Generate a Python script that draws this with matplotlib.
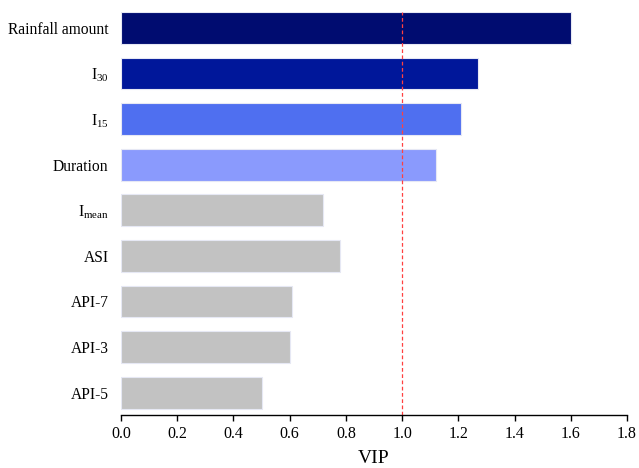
import matplotlib
matplotlib.use("Agg")
import matplotlib.pyplot as plt

plt.rcParams['font.family'] = ['Liberation Serif', 'DejaVu Serif']
plt.rcParams['mathtext.fontset'] = 'custom'
plt.rcParams['mathtext.rm'] = 'Liberation Serif'

labels = ['Rainfall amount', r'$\mathregular{I_{30}}$', r'$\mathregular{I_{15}}$', 'Duration',
          r'$\mathregular{I_{mean}}$', 'ASI', 'API-7', 'API-3', 'API-5']
vip = [1.60, 1.27, 1.21, 1.12, 0.72, 0.78, 0.61, 0.60, 0.50]
colors = ['#000c70', '#00179a', '#4f6ff0', '#8a9afd',
          '#c2c2c2', '#c2c2c2', '#c2c2c2', '#c2c2c2', '#c2c2c2']
threshold = 1.0
xticks = [0.0, 0.2, 0.4, 0.6, 0.8, 1.0, 1.2, 1.4, 1.6, 1.8]

fig = plt.figure(figsize=(6.39, 4.68), dpi=100)
ax = fig.add_axes([0.1894, 0.1132, 0.7918, 0.8612])

ypos = list(range(len(labels)))
ax.barh(ypos, vip, height=0.7, color=colors, edgecolor='#e6e8f4', linewidth=0.8)
ax.axvline(threshold, color='#ff4040', linestyle=(0, (3, 2)), linewidth=0.9)

ax.set_xlim(0, 1.8)
ax.set_ylim(8.49, -0.35)
ax.set_yticks(ypos)
ax.set_yticklabels(labels, fontsize=11.2)
ax.set_xticks(xticks)
ax.set_xticklabels([f'{t:.1f}' for t in xticks], fontsize=11.5)
ax.tick_params(axis='y', length=0, pad=9)
ax.tick_params(axis='x', direction='out', length=4, width=1, pad=4)
ax.set_xlabel('VIP', fontsize=14, labelpad=6)

for s in ['top', 'right', 'left']:
    ax.spines[s].set_visible(False)
ax.spines['bottom'].set_linewidth(1)

fig.savefig('out.png', dpi=100)
